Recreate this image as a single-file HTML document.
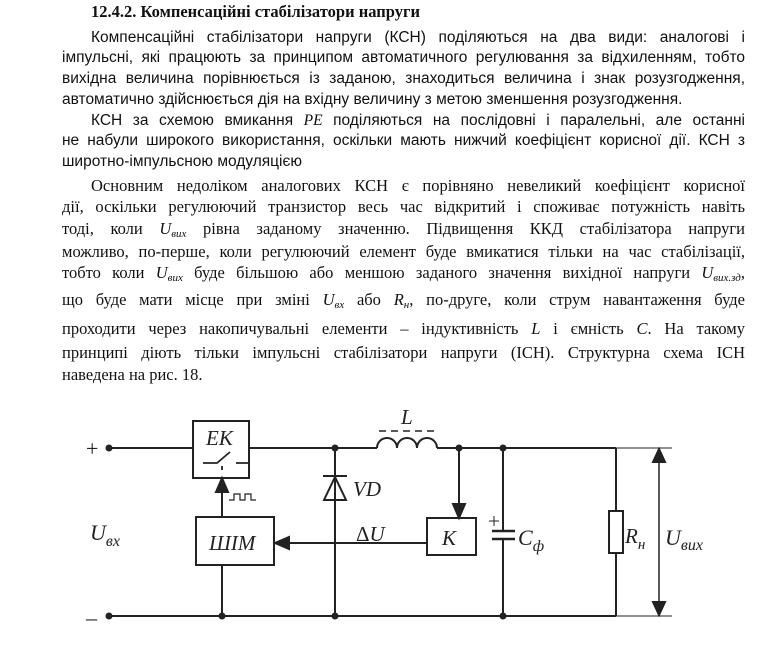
<!DOCTYPE html>
<html><head><meta charset="utf-8"><style>
body{margin:0;width:764px;height:660px;background:#fff;position:relative;overflow:hidden;color:#111}
.l{position:absolute;left:62px;width:683px;height:20px;line-height:20px;white-space:nowrap;text-align:justify;text-align-last:justify;font-size:16px}
.s{font-family:"Liberation Sans",sans-serif;font-size:15.5px}
.r{font-family:"Liberation Serif",serif;font-size:16.5px}
.n{text-align-last:left}
i{font-family:"Liberation Serif",serif}
sub{font-size:11px;vertical-align:-3px;line-height:0}
</style></head><body>
<div class="l r n" style="top:2px;left:91px;font-weight:bold">12.4.2. Компенсаційні стабілізатори напруги</div>
<div class="l s" style="top:28px;padding-left:29px;width:654px">Компенсаційні стабілізатори напруги (КСН) поділяються на два види: аналогові і</div>
<div class="l s" style="top:48px">імпульсні, які працюють за принципом автоматичного регулювання за відхиленням, тобто</div>
<div class="l s" style="top:69px">вихідна величина порівнюється із заданою, знаходиться величина і знак розузгодження,</div>
<div class="l s n" style="top:90px">автоматично здійснюється дія на вхідну величину з метою зменшення розузгодження.</div>
<div class="l s" style="top:111px;padding-left:29px;width:654px">КСН за схемою вмикання <i>PE</i> поділяються на послідовні і паралельні, але останні</div>
<div class="l s" style="top:131px">не набули широкого використання, оскільки мають нижчий коефіцієнт корисної дії. КСН з</div>
<div class="l s n" style="top:152px">широтно-імпульсною модуляцією</div>
<div class="l r" style="top:176px;padding-left:29px;width:654px">Основним недоліком аналогових КСН є порівняно невеликий коефіцієнт корисної</div>
<div class="l r" style="top:197px">дії, оскільки регулюючий транзистор весь час відкритий і споживає потужність навіть</div>
<div class="l r" style="top:219px">тоді, коли <i>U<sub>вих</sub></i> рівна заданому значенню. Підвищення ККД стабілізатора напруги</div>
<div class="l r" style="top:242px">можливо, по-перше, коли регулюючий елемент буде вмикатися тільки на час стабілізації,</div>
<div class="l r" style="top:263px">тобто коли <i>U<sub>вих</sub></i> буде більшою або меншою заданого значення вихідної напруги <i>U<sub>вих.зд</sub></i>,</div>
<div class="l r" style="top:290px">що буде мати місце при зміні <i>U<sub>вх</sub></i> або <i>R<sub>н</sub></i>, по-друге, коли струм навантаження буде</div>
<div class="l r" style="top:319px">проходити через накопичувальні елементи – індуктивність <i>L</i> і ємність <i>C</i>. На такому</div>
<div class="l r" style="top:343px">принципі діють тільки імпульсні стабілізатори напруги (ІСН). Структурна схема ІСН</div>
<div class="l r n" style="top:365px">наведена на рис. 18.</div>

<svg width="764" height="660" style="position:absolute;left:0;top:0" font-family="Liberation Serif,serif" font-style="italic" fill="none" stroke="#222" stroke-width="2">
<line x1="109" y1="448" x2="193" y2="448"/>
<line x1="249" y1="448" x2="377" y2="448"/>
<path d="M377 448 a10 10 0 0 1 20 0 a10 10 0 0 1 20 0 a10 10 0 0 1 20 0"/>
<line x1="379" y1="431" x2="437" y2="431" stroke-dasharray="7 5" stroke-width="1.5"/>
<line x1="437" y1="448" x2="616" y2="448"/>
<line x1="109" y1="616" x2="616" y2="616"/>
<rect x="193" y="421" width="56" height="57"/>
<path d="M203 463 h14 l13 -11 M236 463 h12 M222 466 v4" stroke-width="1.8"/>
<line x1="222" y1="517" x2="222" y2="490"/>
<polygon points="222,478 216,492 228,492" fill="#222"/>
<path d="M229 500 h5 v-6 h6 v6 h5 v-6 h6 v6 h5" stroke-width="1.2"/>
<rect x="196" y="517" width="78" height="48"/>
<line x1="222" y1="565" x2="222" y2="616"/>
<line x1="335" y1="448" x2="335" y2="616"/>
<polygon points="335,477 324,500 346,500"/>
<line x1="323" y1="476" x2="347" y2="476"/>
<line x1="427" y1="543" x2="287" y2="543"/>
<polygon points="275,543 289,537 289,549" fill="#222"/>
<line x1="459" y1="448" x2="459" y2="507"/>
<polygon points="459,518 453,504 465,504" fill="#222"/>
<rect x="427" y="518" width="49" height="37"/>
<line x1="503" y1="448" x2="503" y2="531"/>
<line x1="503" y1="539" x2="503" y2="616"/>
<line x1="492" y1="531" x2="515" y2="531" stroke-width="2.5"/>
<line x1="492" y1="539" x2="515" y2="539" stroke-width="2.5"/>
<path d="M489 521 h10 M494 516 v10" stroke-width="1"/>
<line x1="616" y1="448" x2="616" y2="616"/>
<rect x="609" y="511" width="14" height="42" fill="#fff"/>
<path d="M616 448 h56 M616 616 h56" stroke-width="1"/>
<line x1="659" y1="460" x2="659" y2="604" stroke-width="1.5"/>
<polygon points="659,449 653,462 665,462" fill="#222"/>
<polygon points="659,615 653,602 665,602" fill="#222"/>
<g fill="#222" stroke="none">
<circle cx="109" cy="448" r="3.5"/><circle cx="109" cy="616" r="3.5"/>
<circle cx="335" cy="448" r="3.5"/><circle cx="335" cy="616" r="3.5"/>
<circle cx="222" cy="616" r="3.5"/><circle cx="459" cy="448" r="3.5"/>
<circle cx="503" cy="448" r="3.5"/><circle cx="503" cy="616" r="3.5"/>
<text x="206" y="445" font-size="21">EK</text>
<text x="209" y="550" font-size="21">ШІМ</text>
<text x="442" y="545" font-size="21">K</text>
<text x="401" y="424" font-size="21">L</text>
<text x="353" y="496" font-size="21">VD</text>
<text x="356" y="541" font-size="21" font-style="normal">Δ<tspan font-style="italic">U</tspan></text>
<text x="518" y="545" font-size="22">C<tspan font-size="16" dy="6">ф</tspan></text>
<text x="625" y="543" font-size="21">R<tspan font-size="15" dy="6">н</tspan></text>
<text x="665" y="545" font-size="22">U<tspan font-size="16" dy="5">вих</tspan></text>
<text x="90" y="540" font-size="22">U<tspan font-size="16" dy="6">вх</tspan></text>
<text x="86" y="456" font-size="22" font-style="normal">+</text>
<text x="86" y="625" font-size="22" font-style="normal">–</text>
</g>
</svg>
</body></html>
